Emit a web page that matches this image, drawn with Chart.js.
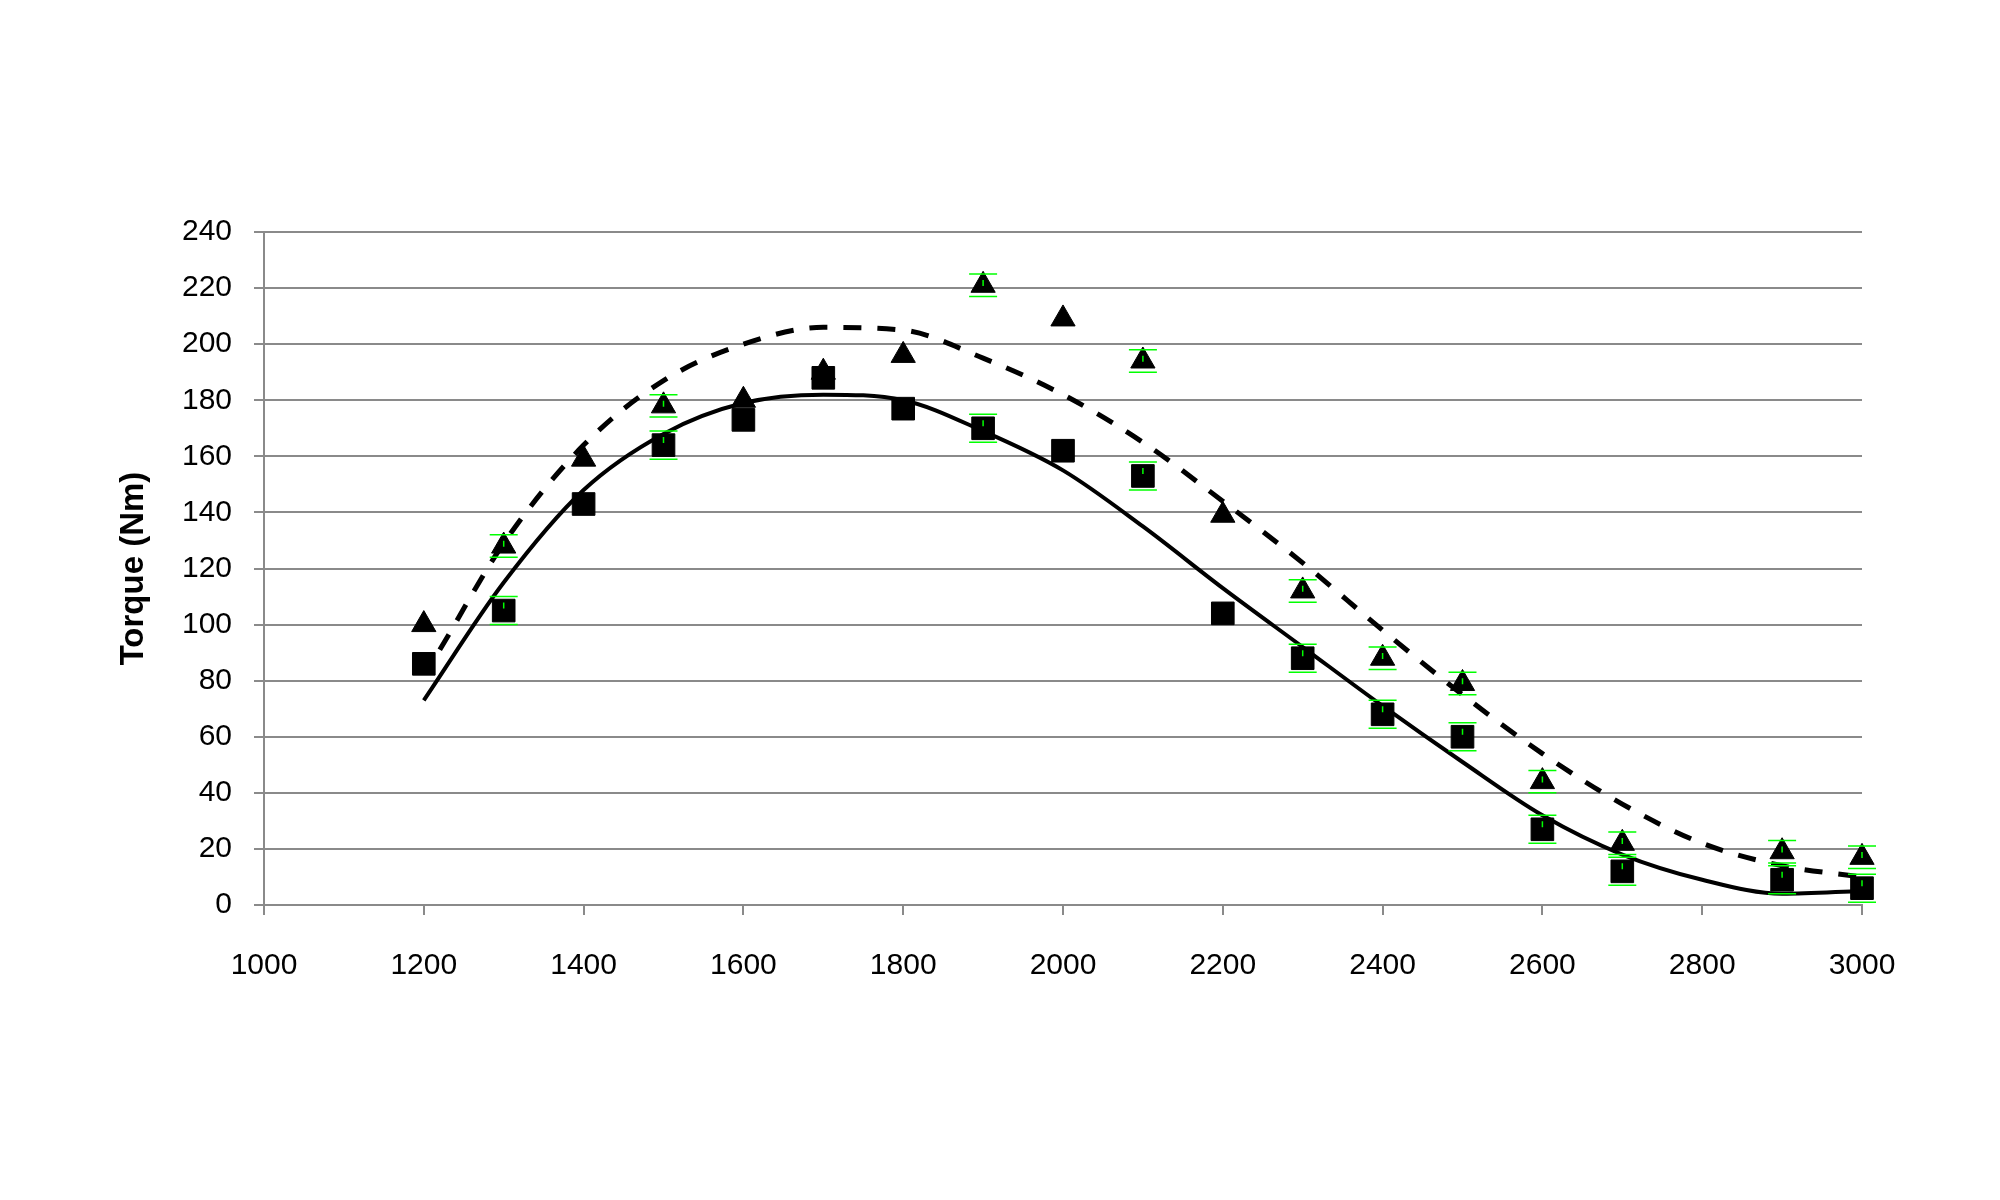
<!DOCTYPE html>
<html>
<head>
<meta charset="utf-8">
<script src="https://cdn.jsdelivr.net/npm/chart.js@4"></script>
<style>
  html, body { margin: 0; padding: 0; background: #fff; }
  #wrap { width: 2000px; height: 1200px; }
</style>
</head>
<body>
<div id="wrap"><canvas id="chart"></canvas></div>
<script>
// Measured points (rpm vs torque), two runs
const rpm = [1200, 1300, 1400, 1500, 1600, 1700, 1800, 1900, 2000, 2100, 2200, 2300, 2400, 2500, 2600, 2700, 2900, 3000];
const torqueSquares = [86, 105, 143, 164, 173, 188, 177, 170, 162, 153, 104, 88, 68, 60, 27, 12, 9, 6];
const torqueTriangles = [100, 128, 159, 178, 180, 190, 196, 221, 209, 194, 139, 112, 88, 79, 44, 22, 19, 17];

// error bar half-widths, null where there is none
const errSquares = [null, 5, null, 5, null, null, null, 5, null, 5, null, 5, 5, 5, 5, 5, 5, 5];
const errTriangles = [null, 4, null, 4, null, null, null, 4, null, 4, null, 4, 4, 4, 4, 4, 4, 4];

// trendlines
const trendSolidX = [1200, 1300, 1400, 1500, 1600, 1700, 1800, 1900, 2000, 2100, 2200, 2300, 2400, 2500, 2600, 2700, 2800, 2900, 3000];
const trendSolidY = [73, 115, 148, 168, 179, 182, 180, 169, 155, 135, 113, 92, 71, 51, 32, 18, 9, 4, 5];
const trendDashX = [1220, 1300, 1400, 1500, 1600, 1700, 1800, 1900, 2000, 2100, 2200, 2300, 2400, 2500, 2600, 2700, 2800, 2900, 3000];
const trendDashY = [91, 129, 164, 187, 200, 206, 205, 195, 182, 165, 144, 122, 98, 75, 54, 36, 22, 14, 10];

const xTicks = [1000, 1200, 1400, 1600, 1800, 2000, 2200, 2400, 2600, 2800, 3000];
const yTicks = [0, 20, 40, 60, 80, 100, 120, 140, 160, 180, 200, 220, 240];

const GRID = '#8a8a8a';
const FONT = "'Liberation Sans', Arial, sans-serif";

const pairs = (xs, ys) => xs.map((x, i) => ({ x, y: ys[i] }));

// green error bars drawn over the markers
const errorBars = {
  id: 'errorBars',
  afterDatasetsDraw(chart) {
    const { ctx } = chart;
    const yScale = chart.scales.y;
    chart.data.datasets.forEach((ds, di) => {
      if (!ds.errors) return;
      const meta = chart.getDatasetMeta(di);
      ctx.save();
      ctx.strokeStyle = '#00ff00';
      ctx.lineWidth = 1.5;
      meta.data.forEach((pt, i) => {
        const e = ds.errors[i];
        if (e == null) return;
        const v = ds.data[i].y;
        const top = yScale.getPixelForValue(v + e);
        const bot = yScale.getPixelForValue(v - e);
        ctx.beginPath();
        ctx.moveTo(pt.x - 14, top); ctx.lineTo(pt.x + 14, top);
        ctx.moveTo(pt.x - 14, bot); ctx.lineTo(pt.x + 14, bot);
        ctx.moveTo(pt.x, top + 6); ctx.lineTo(pt.x, top + 12);
        ctx.stroke();
      });
      ctx.restore();
    });
  }
};

new Chart(document.getElementById('chart'), {
  type: 'scatter',
  data: {
    datasets: [
      {
        label: 'Squares',
        data: pairs(rpm, torqueSquares),
        errors: errSquares,
        pointStyle: 'rect',
        pointRadius: 16,
        backgroundColor: '#000',
        borderColor: '#000',
        borderWidth: 1,
        clip: false,
        order: 0
      },
      {
        label: 'Triangles',
        data: pairs(rpm, torqueTriangles),
        errors: errTriangles,
        pointStyle: 'triangle',
        pointRadius: 14,
        backgroundColor: '#000',
        borderColor: '#000',
        borderWidth: 1,
        clip: false,
        order: 1
      },
      {
        label: 'Trend squares',
        data: pairs(trendSolidX, trendSolidY),
        showLine: true,
        borderColor: '#000',
        borderWidth: 4,
        pointRadius: 0,
        cubicInterpolationMode: 'monotone',
        clip: false,
        order: 2
      },
      {
        label: 'Trend triangles',
        data: pairs(trendDashX, trendDashY),
        showLine: true,
        borderColor: '#000',
        borderWidth: 5,
        borderDash: [18, 16],
        borderCapStyle: 'butt',
        pointRadius: 0,
        cubicInterpolationMode: 'monotone',
        clip: false,
        order: 3
      }
    ]
  },
  options: {
    responsive: true,
    maintainAspectRatio: false,
    animation: false,
    events: [],
    layout: { padding: { left: 0, top: 232, right: 138, bottom: 185 } },
    plugins: {
      legend: { display: false },
      tooltip: { enabled: false }
    },
    scales: {
      x: {
        type: 'linear',
        min: 1000,
        max: 3000,
        afterBuildTicks: s => { s.ticks = xTicks.map(v => ({ value: v })); },
        ticks: {
          color: '#000',
          font: { family: FONT, size: 30 },
          padding: 33,
          maxRotation: 0,
          callback: v => String(v)
        },
        grid: { drawOnChartArea: false, drawTicks: true, tickLength: 10, color: GRID, lineWidth: 2 },
        border: { display: true, color: GRID, width: 2 },
        afterFit: s => { s.height = 110; }
      },
      y: {
        min: 0,
        max: 240,
        afterBuildTicks: s => { s.ticks = yTicks.map(v => ({ value: v })); },
        ticks: { color: '#000', font: { family: FONT, size: 30 }, padding: 22 },
        grid: { color: GRID, lineWidth: 2, tickLength: 10 },
        border: { display: true, color: GRID, width: 2 },
        title: {
          display: true,
          text: 'Torque (Nm)',
          color: '#000',
          font: { family: FONT, size: 33, weight: 'bold' },
          padding: { top: 114, bottom: 0 }
        },
        afterFit: s => { s.width = 264; }
      }
    }
  },
  plugins: [errorBars]
});
</script>
</body>
</html>
